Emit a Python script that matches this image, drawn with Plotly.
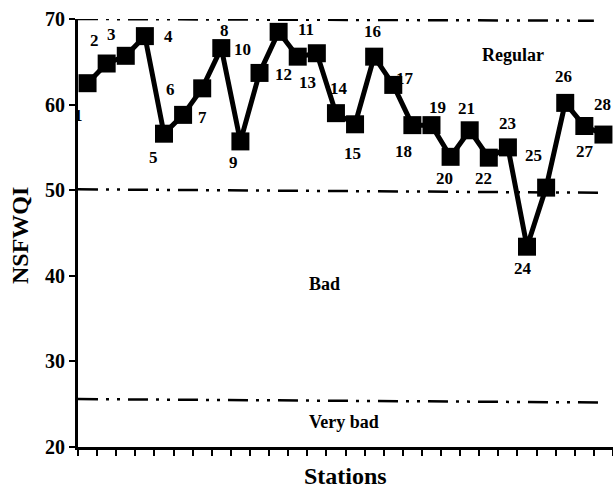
import plotly.graph_objects as go

stations = list(range(1, 29))
nsfwqi = [62.5, 64.8, 65.7, 68.0, 56.6, 58.8, 61.9, 66.6, 55.7, 63.7,
          68.5, 65.6, 66.0, 59.0, 57.7, 65.6, 62.3, 57.6, 57.6, 53.9,
          57.0, 53.8, 55.0, 43.4, 50.3, 60.2, 57.5, 56.5]
station_labels = [str(s) for s in stations]

# class boundary lines (start/end x, start/end y)
boundary_x = [[0.5, 27.5], [0.5, 28.0], [0.5, 27.9]]
boundary_y = [[70.0, 69.8], [50.1, 49.7], [25.6, 25.2]]

class_names = ["Regular", "Bad", "Very bad"]
class_x = [23.25, 13.4, 14.4]
class_y = [65.8, 39.0, 22.9]

# label offsets (pixels) relative to each point: (dx, dy) with dy down positive
label_offsets = [(-9, 32), (-12, -23), (-14, -21), (24, 0), (-10, 24), (-13, -25),
                 (0, 29), (3, -18), (-7, 21), (-17, -23), (27, -2), (-14, 18),
                 (-9, 29), (3, -25), (-3, 29), (-2, -25), (12, -6), (-9, 26),
                 (6, -18), (-6, 22), (-3, -22), (-5, 21), (0, -24), (-4, 22),
                 (-13, -32), (-2, -26), (1, 25), (-1, -30)]

FONT = "Liberation Serif"

fig = go.Figure()

dash = "20px,8px,3px,8px,3px,8px"
for bx, by in zip(boundary_x, boundary_y):
    fig.add_trace(go.Scatter(x=bx, y=by, mode="lines",
                             line=dict(color="black", width=2.5, dash=dash),
                             showlegend=False, hoverinfo="skip"))

fig.add_trace(go.Scatter(x=stations, y=nsfwqi, mode="lines+markers",
                         line=dict(color="black", width=5),
                         marker=dict(symbol="square", size=18, color="black"),
                         cliponaxis=False, showlegend=False))

for s, v, lab, (dx, dy) in zip(stations, nsfwqi, station_labels, label_offsets):
    fig.add_annotation(x=s, y=v, text=lab, showarrow=False, xshift=dx, yshift=-dy,
                       font=dict(family=FONT, size=17, color="black", weight="bold"))

for name, cx, cy in zip(class_names, class_x, class_y):
    fig.add_annotation(x=cx, y=cy, text=name, showarrow=False,
                       font=dict(family=FONT, size=18, color="black", weight="bold"))

fig.add_annotation(xref="paper", yref="paper", x=0.5, y=0, yshift=-29, yanchor="middle",
                   text="Stations", showarrow=False,
                   font=dict(family=FONT, size=24, color="black", weight="bold"))
fig.add_annotation(xref="paper", yref="paper", x=0, y=0.5, xshift=-58, yshift=-3,
                   xanchor="center", yanchor="middle", text="NSFWQI",
                   textangle=-90, showarrow=False,
                   font=dict(family=FONT, size=24, color="black", weight="bold"))

fig.update_layout(
    width=613, height=488,
    margin=dict(l=78, r=0, t=19, b=41),
    plot_bgcolor="white", paper_bgcolor="white",
    xaxis=dict(range=[0.5, 28.5], tickmode="linear", tick0=0.5, dtick=1,
               showticklabels=False, ticks="outside", ticklen=6, tickwidth=2,
               tickcolor="black", showline=True, linecolor="black", linewidth=3,
               showgrid=False, zeroline=False),
    yaxis=dict(range=[20, 70], tickmode="linear", tick0=20, dtick=10,
               ticks="outside", ticklen=6, tickwidth=2, tickcolor="black",
               showline=True, linecolor="black", linewidth=3,
               showgrid=False, zeroline=False,
               tickfont=dict(family=FONT, size=20, color="black", weight="bold")),
)

fig.write_html("out.html", config={"displayModeBar": False},
               post_script="document.body.style.margin='0px';document.body.style.overflow='hidden';")
